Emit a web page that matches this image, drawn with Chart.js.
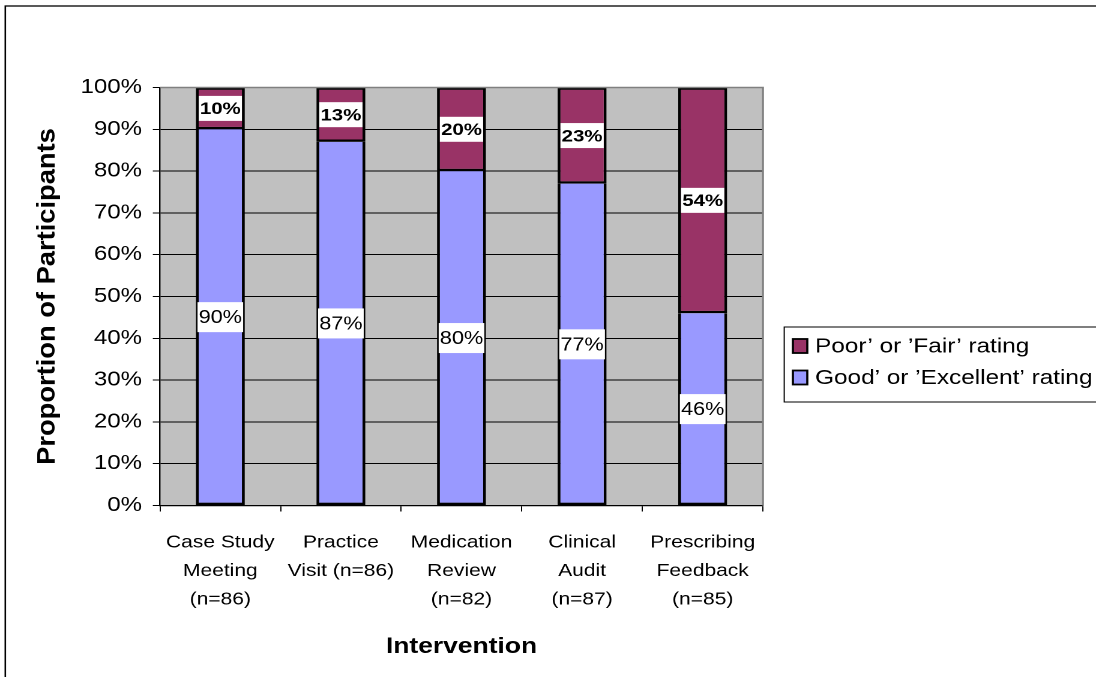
<!DOCTYPE html>
<html>
<head>
<meta charset="utf-8">
<title>Intervention ratings</title>
<script src="https://cdn.jsdelivr.net/npm/chart.js@4.4.1/dist/chart.umd.min.js"></script>
<style>
  html, body { margin: 0; padding: 0; background: #ffffff; overflow: hidden; }
  /* the chart is laid out narrower and widened horizontally, giving the broad lettering */
  #wrap { position: absolute; left: 0; top: 0; width: 913px; height: 677px;
          transform: scaleX(1.2004); transform-origin: 0 0; }
</style>
</head>
<body>
<div id="wrap"><canvas id="chart"></canvas></div>
<script>
// ---- data ----
const categories = [
  ["Case Study", "Meeting", "(n=86)"],
  ["Practice", "Visit (n=86)"],
  ["Medication", "Review", "(n=82)"],
  ["Clinical", "Audit", "(n=87)"],
  ["Prescribing", "Feedback", "(n=85)"]
];
const goodOrExcellent = [90, 87, 80, 77, 46];
const poorOrFair = [10, 13, 20, 23, 54];
const seriesNames = ["Good’ or ’Excellent’ rating", "Poor’ or ’Fair’ rating"];
const yAxisTitle = "Proportion of Participants";
const xAxisTitle = "Intervention";
const yTickStep = 10;
const yMax = 100;

// ---- look ----
const FONT = "'Liberation Sans', Arial, Helvetica, sans-serif";
const GOOD_COLOR = "#9999FF";
const POOR_COLOR = "#993366";
const PLOT_BG = "#C0C0C0";
const W = 913, H = 677;
const PLOT = { left: 133.3, right: 635.6, top: 87.5, bottom: 505.5 };

// background, frame, plot border, y title, value labels and legend
const decorations = {
  id: "decorations",
  beforeDraw(chart) {
    const { ctx, chartArea: a } = chart;
    ctx.save();
    ctx.fillStyle = "#ffffff";
    ctx.fillRect(0, 0, W, H);
    // outer frame
    ctx.strokeStyle = "#000000";
    ctx.lineWidth = 1.3;
    ctx.strokeRect(4.4, 6, W + 20, H + 20);
    // plot area fill
    ctx.fillStyle = PLOT_BG;
    ctx.fillRect(a.left, a.top, a.right - a.left, a.bottom - a.top);
    ctx.restore();
  },
  afterDraw(chart) {
    const { ctx, chartArea: a } = chart;
    ctx.save();
    // gray plot border on top and right
    ctx.strokeStyle = "#808080";
    ctx.lineWidth = 1.6;
    ctx.beginPath();
    ctx.moveTo(a.left, a.top);
    ctx.lineTo(a.right, a.top);
    ctx.lineTo(a.right, a.bottom);
    ctx.stroke();

    // vertical axis title, widened along its baseline like the other lettering
    ctx.save();
    ctx.translate(39.6, (a.top + a.bottom) / 2);
    ctx.rotate(-Math.PI / 2);
    ctx.scale(1.3, 1);
    ctx.font = "bold 21px " + FONT;
    ctx.fillStyle = "#000000";
    ctx.textAlign = "center";
    ctx.textBaseline = "middle";
    ctx.fillText(yAxisTitle, 0, 0);
    ctx.restore();

    // value labels in white boxes
    chart.data.datasets.forEach((ds, di) => {
      const meta = chart.getDatasetMeta(di);
      const bold = di === 1;
      const size = bold ? 17 : 18;
      const boxH = bold ? 25 : 30;
      ctx.font = (bold ? "bold " : "") + size + "px " + FONT;
      ctx.textAlign = "center";
      ctx.textBaseline = "middle";
      meta.data.forEach((bar, i) => {
        const txt = ds.data[i] + "%";
        const cy = (bar.y + bar.base) / 2;
        const tw = ctx.measureText(txt).width + 2;
        ctx.fillStyle = "#ffffff";
        ctx.fillRect(bar.x - tw / 2, cy - boxH / 2, tw, boxH);
        ctx.fillStyle = "#000000";
        ctx.fillText(txt, bar.x, cy + 1);
      });
    });

    // legend
    const lx = 653.3, ly = 327, lh = 75;
    ctx.strokeStyle = "#000000";
    ctx.lineWidth = 1;
    ctx.strokeRect(lx, ly, W - lx + 10, lh);
    const items = chart.data.datasets.slice().reverse();
    ctx.font = "20.3px " + FONT;
    ctx.textAlign = "left";
    ctx.textBaseline = "middle";
    items.forEach((ds, k) => {
      const cy = ly + 19 + k * 31.5;
      ctx.fillStyle = ds.backgroundColor;
      ctx.fillRect(660.5, cy - 7, 12, 14);
      ctx.strokeStyle = "#000000";
      ctx.lineWidth = 1.8;
      ctx.strokeRect(660.5, cy - 7, 12, 14);
      ctx.fillStyle = "#000000";
      ctx.fillText(ds.label, 679, cy + 1);
    });
    ctx.restore();
  }
};

new Chart(document.getElementById("chart"), {
  type: "bar",
  data: {
    labels: categories,
    datasets: [
      { label: seriesNames[0], data: goodOrExcellent, backgroundColor: GOOD_COLOR,
        borderColor: "#000000", borderWidth: 2.4, borderSkipped: "end" },
      { label: seriesNames[1], data: poorOrFair, backgroundColor: POOR_COLOR,
        borderColor: "#000000", borderWidth: 2.4, borderSkipped: false }
    ]
  },
  options: {
    responsive: true,
    maintainAspectRatio: false,
    animation: false,
    devicePixelRatio: 2,
    events: [],
    layout: { padding: { left: 0, top: PLOT.top, right: W - PLOT.right, bottom: 0 } },
    datasets: { bar: { barPercentage: 0.406, categoryPercentage: 1 } },
    plugins: { legend: { display: false }, tooltip: { enabled: false } },
    scales: {
      x: {
        stacked: true,
        offset: true,
        afterFit(s) { s.height = H - PLOT.bottom; },
        grid: { display: true, offset: true, drawOnChartArea: false, drawTicks: true,
                tickLength: 6, color: "#000000", lineWidth: 1 },
        border: { display: true, color: "#000000", width: 1.2 },
        ticks: { color: "#000000", padding: 17, maxRotation: 0, autoSkip: false,
                 font: { family: FONT, size: 17.5, lineHeight: "28.5px" } },
        title: { display: true, text: xAxisTitle, color: "#000000",
                 padding: { top: 0, bottom: 17 },
                 font: { family: FONT, size: 22, weight: "bold", lineHeight: 1.2 } }
      },
      y: {
        stacked: true,
        min: 0,
        max: yMax,
        afterFit(s) { s.width = PLOT.left; },
        grid: { display: true, drawOnChartArea: true, drawTicks: true, tickLength: 6,
                color: "#000000", lineWidth: 1 },
        border: { display: true, color: "#000000", width: 1.2 },
        ticks: { stepSize: yTickStep, color: "#000000", padding: 9,
                 callback: v => v + "%",
                 font: { family: FONT, size: 20 } },
        title: { display: false }
      }
    }
  },
  plugins: [decorations]
});
</script>
</body>
</html>
